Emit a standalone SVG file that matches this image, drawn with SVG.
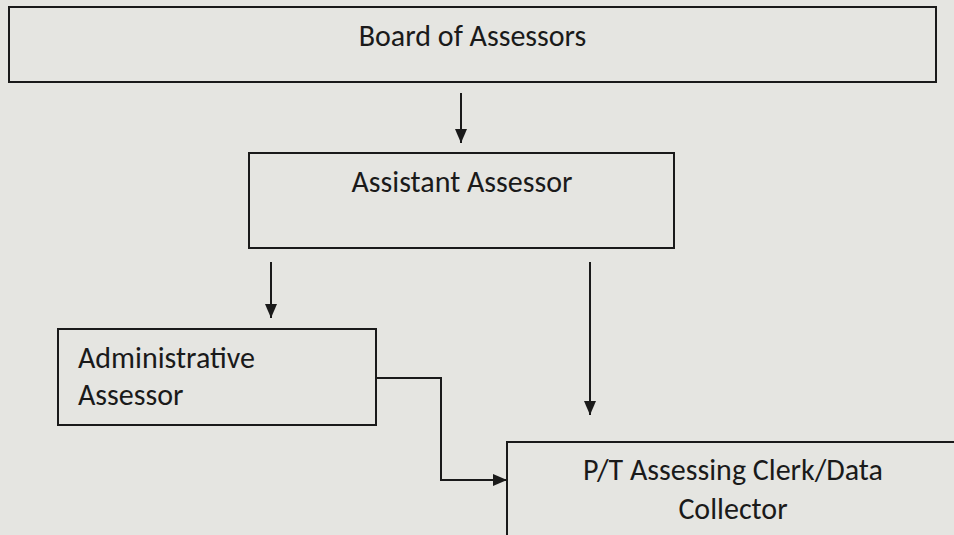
<svg xmlns="http://www.w3.org/2000/svg" width="954" height="535" viewBox="0 0 954 535">
<defs>
<style>
.box{fill:#e5e5e1;stroke:#1a1a1a;stroke-width:2}
.t{font-family:Carlito,"Liberation Sans",Arial,sans-serif;font-size:30px;fill:#1a1a1a}
.c{fill:none;stroke:#1a1a1a;stroke-width:2}
</style>
<marker id="ah" viewBox="0 0 14 12" refX="14" refY="6" markerWidth="14" markerHeight="12" markerUnits="userSpaceOnUse" orient="auto"><path d="M0,0 L14,6 L0,12 z" fill="#1a1a1a"/></marker>
</defs>
<rect width="954" height="535" fill="#e5e5e1"/>
<g id="board"><rect class="box" x="9" y="7" width="927" height="75"/><text class="t" x="472.5" y="46" text-anchor="middle">Board of Assessors</text></g>
<g id="assistant"><rect class="box" x="249" y="153" width="425" height="95"/><text class="t" x="462" y="192" text-anchor="middle">Assistant Assessor</text></g>
<g id="admin"><rect class="box" x="58" y="329" width="318" height="96"/><text class="t" x="78" y="368">Administrative</text><text class="t" x="78" y="405">Assessor</text></g>
<g id="clerk"><rect class="box" x="507" y="442" width="460" height="110"/><text class="t" x="733" y="480" text-anchor="middle">P/T Assessing Clerk/Data</text><text class="t" x="733" y="519" text-anchor="middle">Collector</text></g>
<g id="connectors">
<path class="c" d="M461,93 V143" marker-end="url(#ah)"/>
<path class="c" d="M271,262 V318" marker-end="url(#ah)"/>
<path class="c" d="M590,262 V415" marker-end="url(#ah)"/>
<path class="c" d="M376,378 H441 V480 H507" marker-end="url(#ah)"/>
</g>
</svg>
